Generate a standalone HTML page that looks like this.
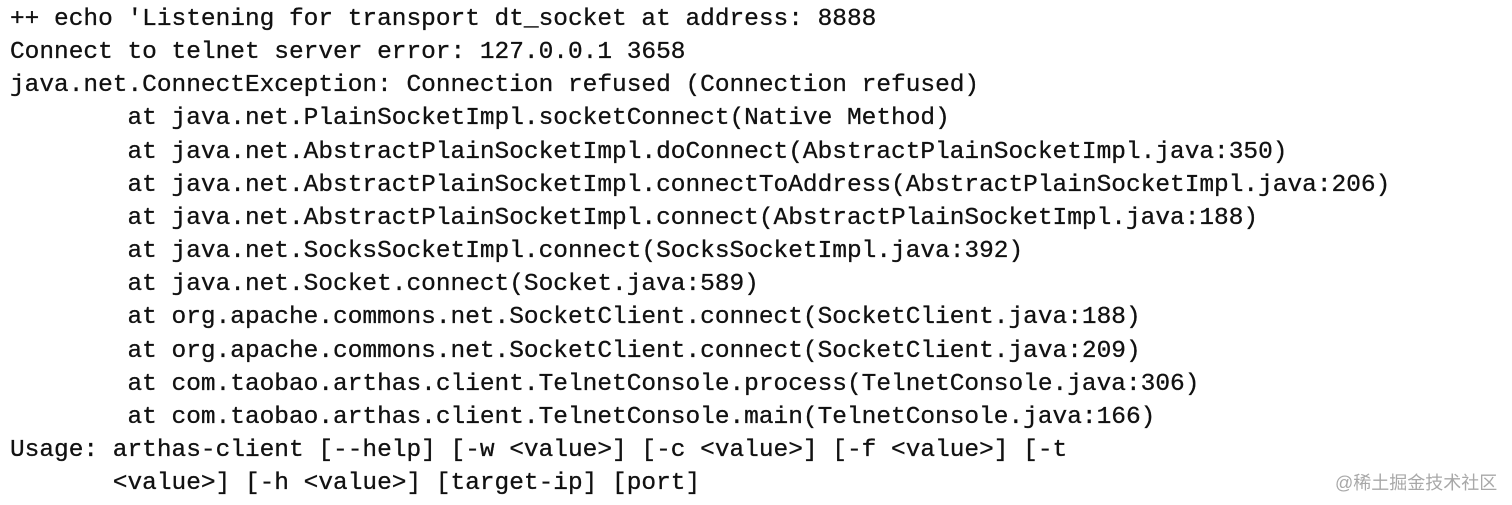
<!DOCTYPE html>
<html><head><meta charset="utf-8"><style>
html,body{margin:0;padding:0;background:#fff;width:1512px;height:505px;overflow:hidden;position:relative}
pre{position:absolute;left:10px;top:3px;margin:0;font-family:"Liberation Mono",monospace;font-size:24.47px;line-height:33.15px;color:#111;-webkit-text-stroke:0.3px #111}
.wm{position:absolute;left:1335px;top:469px;font-family:"Liberation Sans","Noto Sans CJK SC",sans-serif;font-size:18px;color:#a8a8a8;white-space:nowrap}
</style></head><body>
<pre>++ echo 'Listening for transport dt_socket at address: 8888
Connect to telnet server error: 127.0.0.1 3658
java.net.ConnectException: Connection refused (Connection refused)
        at java.net.PlainSocketImpl.socketConnect(Native Method)
        at java.net.AbstractPlainSocketImpl.doConnect(AbstractPlainSocketImpl.java:350)
        at java.net.AbstractPlainSocketImpl.connectToAddress(AbstractPlainSocketImpl.java:206)
        at java.net.AbstractPlainSocketImpl.connect(AbstractPlainSocketImpl.java:188)
        at java.net.SocksSocketImpl.connect(SocksSocketImpl.java:392)
        at java.net.Socket.connect(Socket.java:589)
        at org.apache.commons.net.SocketClient.connect(SocketClient.java:188)
        at org.apache.commons.net.SocketClient.connect(SocketClient.java:209)
        at com.taobao.arthas.client.TelnetConsole.process(TelnetConsole.java:306)
        at com.taobao.arthas.client.TelnetConsole.main(TelnetConsole.java:166)
Usage: arthas-client [--help] [-w &lt;value&gt;] [-c &lt;value&gt;] [-f &lt;value&gt;] [-t
       &lt;value&gt;] [-h &lt;value&gt;] [target-ip] [port]</pre>
<div class="wm">@稀土掘金技术社区</div>
</body></html>
